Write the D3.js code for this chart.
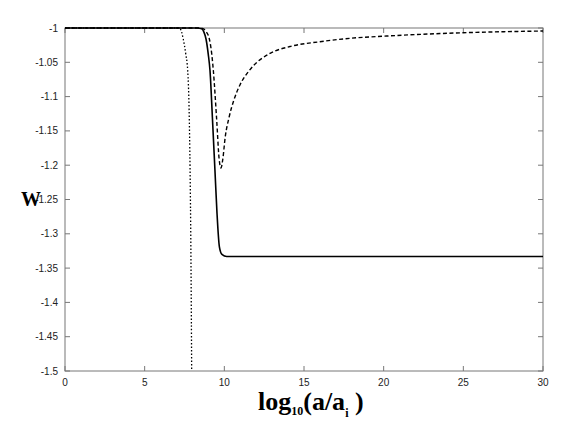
<!DOCTYPE html>
<html>
<head>
<meta charset="utf-8">
<script src="https://cdn.jsdelivr.net/npm/d3@7"></script>
<style>
	body { margin: 0; background: #fff; }
	svg { display: block; }
</style>
</head>
<body>
<svg width="577" height="434"></svg>
<script>
// values: x = log10(a/ai), w
var dottedX = [0, 5, 7.0, 7.22, 7.42, 7.58, 7.70, 7.79, 7.85, 7.90, 7.93, 7.95];
var dottedW = [-1, -1, -1, -1.001, -1.016, -1.038, -1.062, -1.12, -1.207, -1.32, -1.42, -1.5];

var solidX = [0, 5, 8.3, 8.58, 8.72, 8.85, 8.99, 9.10, 9.25, 9.41, 9.54, 9.69, 9.85, 10.15, 15, 20, 25, 30];
var solidW = [-1, -1, -1, -1.001, -1.006, -1.016, -1.038, -1.062, -1.13, -1.207, -1.27, -1.319, -1.330, -1.333, -1.333, -1.333, -1.333, -1.333];

var dashedX = [0, 5, 8.4, 8.66, 8.85, 9.06, 9.21, 9.31, 9.52, 9.67, 9.79, 9.90, 10.05, 10.3, 10.6, 10.98, 11.6, 12.87, 14.12, 16.0, 17.89, 20.19, 24.98, 30];
var dashedW = [-1, -1, -1, -1.001, -1.005, -1.016, -1.038, -1.062, -1.134, -1.190, -1.204, -1.192, -1.16, -1.13, -1.105, -1.083, -1.061, -1.037, -1.027, -1.020, -1.015, -1.0117, -1.0069, -1.0044];

var xTicks = [0, 5, 10, 15, 20, 25, 30];
var yTicks = [-1, -1.05, -1.1, -1.15, -1.2, -1.25, -1.3, -1.35, -1.4, -1.45, -1.5];

var svg = d3.select("svg");
var plotLeft = 65, plotRight = 543, plotTop = 28, plotBottom = 371;

var x = d3.scaleLinear().domain([0, 30]).range([plotLeft, plotRight]);
var y = d3.scaleLinear().domain([-1.5, -1]).range([plotBottom, plotTop]);

function zipSeries(xs, ws) {
	return xs.map(function(v, i) { return [v, ws[i]]; });
}

svg.append("clipPath").attr("id", "plot")
	.append("rect")
	.attr("x", plotLeft).attr("y", plotTop - 1)
	.attr("width", plotRight - plotLeft).attr("height", plotBottom - plotTop + 1);

var line = d3.line()
	.x(function(d) { return x(d[0]); })
	.y(function(d) { return y(d[1]); })
	.curve(d3.curveMonotoneX);

var frameColor = "#777";
var tickLen = 5;

// frame
svg.append("rect")
	.attr("x", plotLeft).attr("y", plotTop)
	.attr("width", plotRight - plotLeft).attr("height", plotBottom - plotTop)
	.attr("fill", "none").attr("stroke", frameColor).attr("stroke-width", 1);

// mirror ticks on all four sides
var g = svg.append("g").attr("stroke", frameColor).attr("stroke-width", 1);
xTicks.forEach(function(t) {
	g.append("line").attr("x1", x(t)).attr("x2", x(t)).attr("y1", plotBottom).attr("y2", plotBottom - tickLen);
	g.append("line").attr("x1", x(t)).attr("x2", x(t)).attr("y1", plotTop).attr("y2", plotTop + tickLen);
});
yTicks.forEach(function(t) {
	g.append("line").attr("x1", plotLeft).attr("x2", plotLeft + tickLen).attr("y1", y(t)).attr("y2", y(t));
	g.append("line").attr("x1", plotRight).attr("x2", plotRight - tickLen).attr("y1", y(t)).attr("y2", y(t));
});

// tick labels
svg.append("g").selectAll("text")
	.data(xTicks).enter().append("text")
	.attr("x", function(d) { return x(d); })
	.attr("y", plotBottom + 15)
	.attr("text-anchor", "middle")
	.attr("font-family", "Liberation Sans, Arial, sans-serif")
	.attr("font-size", 10)
	.attr("fill", "#222")
	.text(function(d) { return d; });

svg.append("g").selectAll("text")
	.data(yTicks).enter().append("text")
	.attr("x", plotLeft - 7)
	.attr("y", function(d) { return y(d) + 3.5; })
	.attr("text-anchor", "end")
	.attr("font-family", "Liberation Sans, Arial, sans-serif")
	.attr("font-size", 10)
	.attr("fill", "#222")
	.text(function(d) { return d; });

// curves
var curves = svg.append("g").attr("clip-path", "url(#plot)").attr("fill", "none").attr("stroke", "#000");
curves.append("path")
	.attr("d", line(zipSeries(dottedX, dottedW)))
	.attr("stroke-width", 1.3)
	.attr("stroke-dasharray", "1.5,2");
curves.append("path")
	.attr("d", line(zipSeries(dashedX, dashedW)))
	.attr("stroke-width", 1.4)
	.attr("stroke-dasharray", "4,2.5");
curves.append("path")
	.attr("d", line(zipSeries(solidX, solidW)))
	.attr("stroke-width", 1.6);

// axis titles
var xt = svg.append("text")
	.attr("x", 258).attr("y", 410)
	.attr("font-family", "Liberation Serif, Times New Roman, serif")
	.attr("font-weight", "bold")
	.attr("font-size", 26)
	.attr("fill", "#000");
xt.append("tspan").text("log");
xt.append("tspan").attr("font-size", 12).attr("dy", 5).text("10");
xt.append("tspan").attr("dy", -5).text("(a/a");
xt.append("tspan").attr("font-size", 12).attr("dy", 7).text("i");
xt.append("tspan").attr("dy", -7).text(" )");

svg.append("text")
	.attr("x", 21).attr("y", 206)
	.attr("font-family", "Liberation Serif, Times New Roman, serif")
	.attr("font-weight", "bold")
	.attr("font-size", 20)
	.attr("fill", "#000")
	.text("W");
</script>
</body>
</html>
